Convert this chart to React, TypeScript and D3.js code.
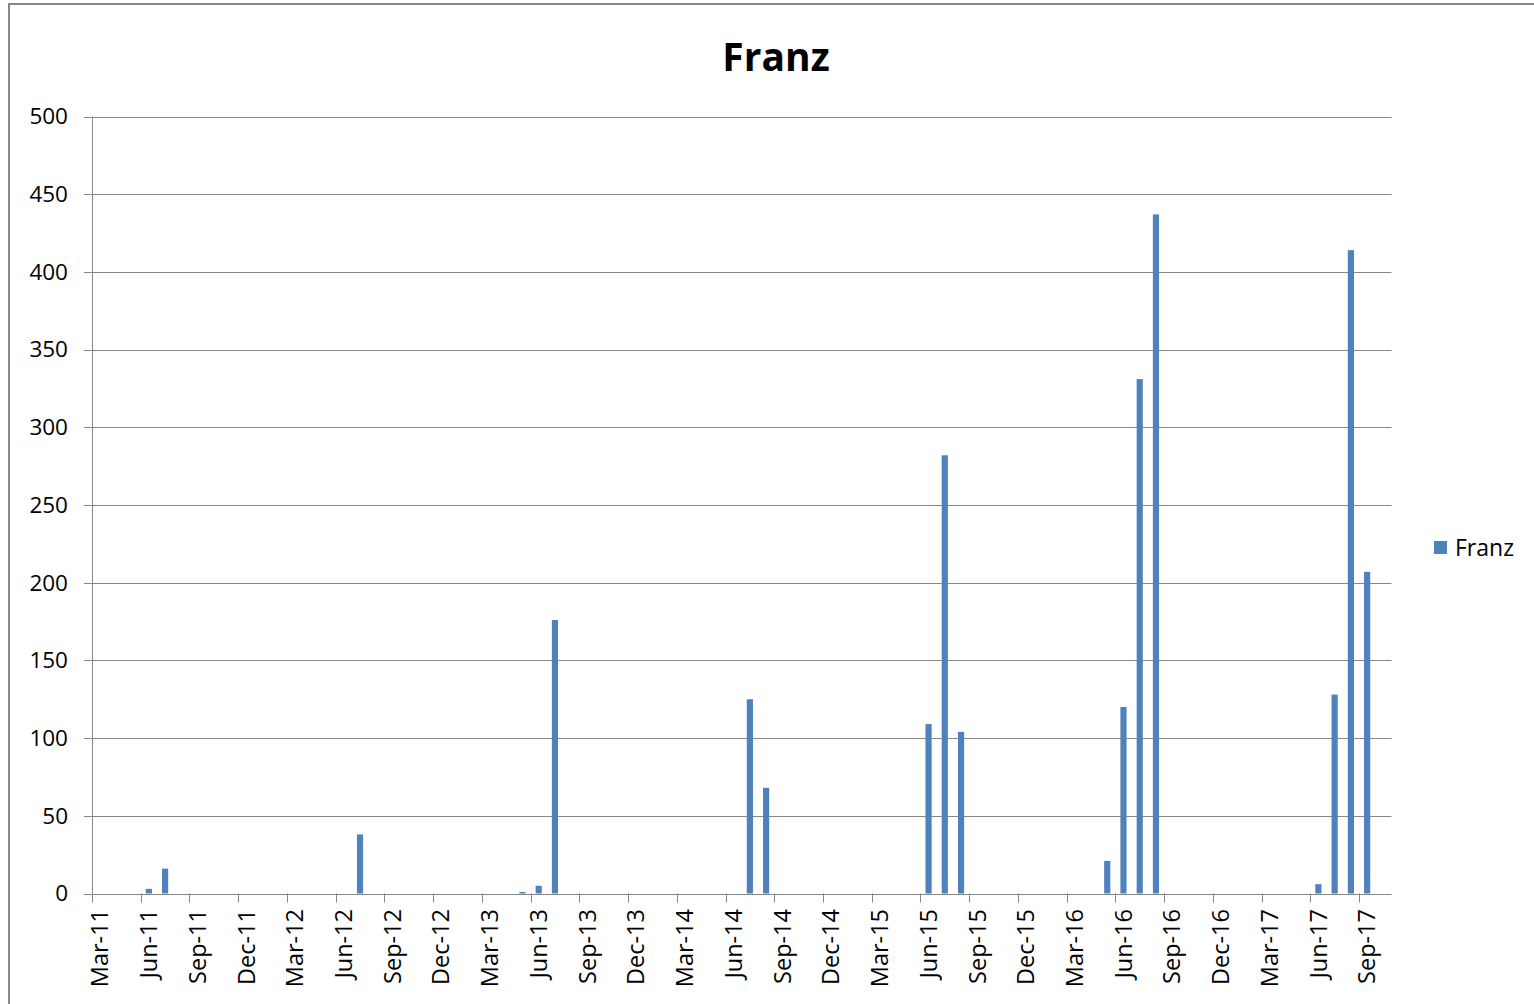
import React from "react";
import { scaleBand, scaleLinear } from "d3";

// monthly categories Mar-11 .. Oct-17
const monthNames = ["Jan", "Feb", "Mar", "Apr", "May", "Jun", "Jul", "Aug", "Sep", "Oct", "Nov", "Dec"];
const months: string[] = [];
for (let y = 2011, m = 2; !(y === 2017 && m === 10); ) {
  months.push(`${monthNames[m]}-${String(y).slice(2)}`);
  m++;
  if (m === 12) { m = 0; y++; }
}

// only non-zero months, the rest are empty
const barMonths = ["Jun-11", "Jul-11", "Jul-12", "May-13", "Jun-13", "Jul-13", "Jul-14", "Aug-14", "Jun-15", "Jul-15", "Aug-15", "May-16", "Jun-16", "Jul-16", "Aug-16", "Jun-17", "Jul-17", "Aug-17", "Sep-17"];
const barValues = [3, 16, 38, 1, 5, 176, 125, 68, 109, 282, 104, 21, 120, 331, 437, 6, 128, 414, 207];

const yTicks = [0, 50, 100, 150, 200, 250, 300, 350, 400, 450, 500];

const W = 1534, H = 1004;
const left = 92, right = 1391.5, top = 116.5, bottom = 893.5;
const blue = "#4F81BD";
const grid = "#878787";
const font = "'Open Sans', 'Liberation Sans', sans-serif";

export default function App() {
  const x = scaleBand<string>().domain(months).range([left, right]).paddingInner(0.62).paddingOuter(0.31);
  const step = x.step();
  const y = scaleLinear().domain([0, 500]).range([bottom, top]);
  const tickMonths = months.filter((_, i) => i % 3 === 0);

  return (
    <svg width={W} height={H} style={{ position: "absolute", left: 0, top: 0 }}>
      <rect x={0} y={0} width={W} height={H} fill="#fff" />
      <rect x={9} y={4} width={W + 10} height={H + 10} fill="none" stroke="#888" strokeWidth={2} />
      <text x={776} y={71} textAnchor="middle" fontFamily={font} fontWeight="bold" fontSize={39} fill="#000">Franz</text>

      {yTicks.map((t) => (
        <g key={t}>
          <line x1={left - 8} x2={right} y1={Math.round(y(t)) + 0.5} y2={Math.round(y(t)) + 0.5} stroke={grid} strokeWidth={1} />
          <text x={68} y={y(t)} dy="0.35em" textAnchor="end" fontFamily={font} fontSize={22.5} fill="#000">{t}</text>
        </g>
      ))}
      <line x1={left + 0.5} x2={left + 0.5} y1={top} y2={bottom} stroke={grid} />

      {barMonths.map((m, i) => (
        <rect key={m} x={x(m)} y={y(barValues[i])} width={x.bandwidth()} height={bottom - y(barValues[i])} fill={blue} />
      ))}

      {tickMonths.map((m) => {
        const tx = Math.round((x(m) as number) - step * 0.31) + 0.5;
        const cx = (x(m) as number) + x.bandwidth() / 2;
        return (
          <g key={m}>
            <line x1={tx} x2={tx} y1={bottom} y2={bottom + 9} stroke={grid} />
            <text transform={`translate(${cx},909) rotate(-90)`} dy="0.35em" textAnchor="end" fontFamily={font} fontSize={23.5} fill="#000">{m}</text>
          </g>
        );
      })}

      <rect x={1434} y={541} width={13} height={13} fill={blue} />
      <text x={1455} y={548} dy="0.35em" fontFamily={font} fontSize={23} fill="#000">Franz</text>
    </svg>
  );
}
